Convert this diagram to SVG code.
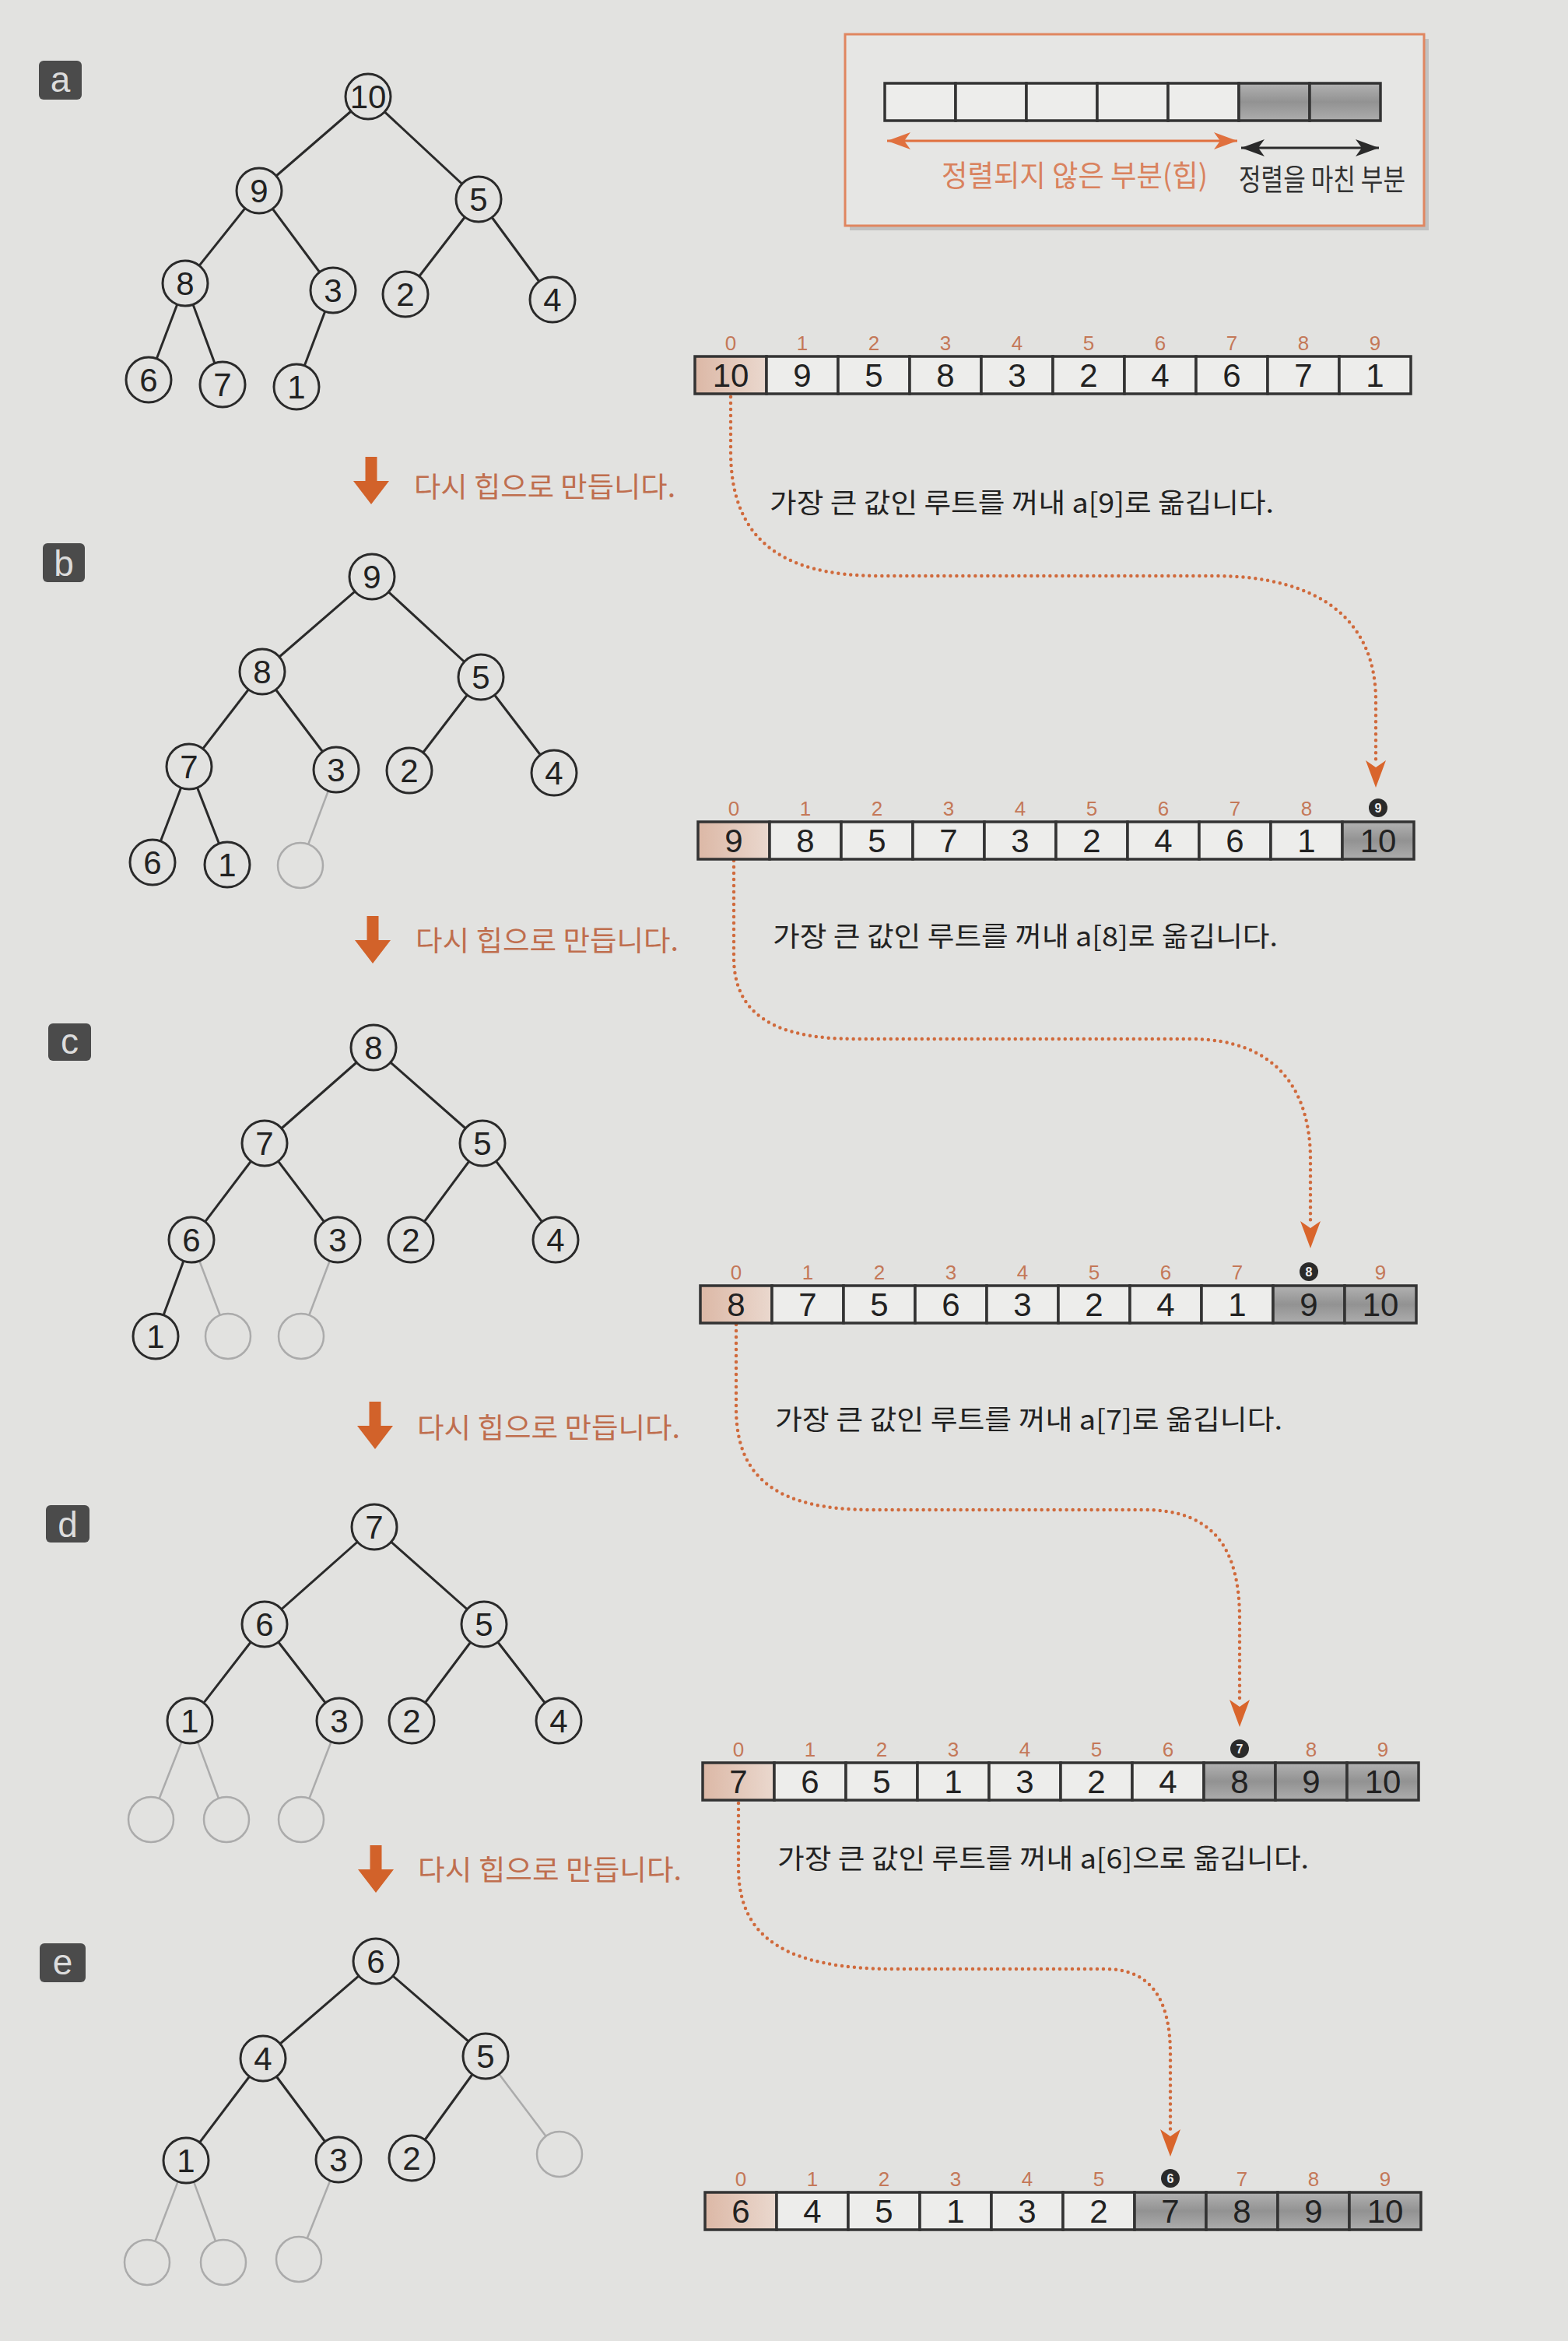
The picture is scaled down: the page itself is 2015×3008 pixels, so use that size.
<svg xmlns="http://www.w3.org/2000/svg" width="2015" height="3008" viewBox="0 0 2015 3008">
<defs>
<style>
.bg{fill:#e2e2e0}
.n circle{fill:#e2e2e0;stroke:#2a2a2a;stroke-width:3}
.n text{font-family:"Liberation Sans",Arial,sans-serif;font-size:42px;fill:#222;text-anchor:middle}
.g circle{fill:#e2e2e0;stroke:#ababab;stroke-width:2.5}
.e{stroke:#2a2a2a;stroke-width:3}
.ge{stroke:#ababab;stroke-width:2.5}
.lab rect{fill:#4b4b4b}
.lab text{font-family:"Liberation Sans",Arial,sans-serif;font-size:46px;fill:#dcdcdc;text-anchor:middle}
.cell{fill:#ededeb;stroke:#333;stroke-width:3.5}
.pk{fill:url(#pink);stroke:#333;stroke-width:3.5}
.gr{fill:url(#gray);stroke:#333;stroke-width:3.5}
.val{font-family:"Liberation Sans",Arial,sans-serif;font-size:42px;fill:#222;text-anchor:middle}
.idx{font-family:"Liberation Sans",Arial,sans-serif;font-size:26px;fill:#c47858;text-anchor:middle}
.bidx{font-family:"Liberation Sans",Arial,sans-serif;font-size:16px;font-weight:bold;fill:#eee;text-anchor:middle}
.kr{font-family:"Noto Sans CJK KR","Noto Sans CJK SC",sans-serif;font-size:35px;fill:#222}
.kro{font-family:"Noto Sans CJK KR","Noto Sans CJK SC",sans-serif;font-size:36px;fill:#bf6e4e}
.down{fill:#d2622a}
.dot{fill:none;stroke:#d06a3c;stroke-width:4.5;stroke-linecap:round;stroke-dasharray:0 8}
</style>
<linearGradient id="pink" x1="0" y1="0" x2="1" y2="0">
<stop offset="0" stop-color="#dcb8a6"/><stop offset="1" stop-color="#ead8ce"/>
</linearGradient>
<linearGradient id="gray" x1="0" y1="0" x2="0" y2="1">
<stop offset="0" stop-color="#b2b2b2"/><stop offset="0.5" stop-color="#929292"/><stop offset="1" stop-color="#adadad"/>
</linearGradient>
<marker id="dh" markerUnits="userSpaceOnUse" markerWidth="40" markerHeight="30" viewBox="0 -15 40 30" refX="2" refY="0" orient="auto">
<path d="M0,-13 L35,0 L0,13 L9,0 z" fill="#d9652c"/>
</marker>
<marker id="oh" markerUnits="userSpaceOnUse" markerWidth="34" markerHeight="26" viewBox="0 -13 34 26" refX="30" refY="0" orient="auto-start-reverse">
<path d="M0,-11 L30,0 L0,11 L8,0 z" fill="#e0703e"/>
</marker>
<marker id="kh" markerUnits="userSpaceOnUse" markerWidth="34" markerHeight="26" viewBox="0 -13 34 26" refX="30" refY="0" orient="auto-start-reverse">
<path d="M0,-11 L30,0 L0,11 L8,0 z" fill="#2a2a2a"/>
</marker>
</defs>
<rect class="bg" x="0" y="0" width="2015" height="3008"/>

<!-- legend -->
<g id="legend">
<rect x="1092" y="50" width="744" height="246" fill="#9a9a98" opacity="0.45"/>
<rect x="1086" y="44" width="744" height="246" fill="#e6e6e4" stroke="#e08660" stroke-width="3"/>
<g transform="translate(1137,107)">
<rect class="cell" x="0" y="0" width="91" height="48"/>
<rect class="cell" x="91" y="0" width="91" height="48"/>
<rect class="cell" x="182" y="0" width="91" height="48"/>
<rect class="cell" x="273" y="0" width="91" height="48"/>
<rect class="cell" x="364" y="0" width="91" height="48"/>
<rect class="gr" x="455" y="0" width="91" height="48"/>
<rect class="gr" x="546" y="0" width="91" height="48"/>
</g>
<line x1="1140" y1="181" x2="1590" y2="181" stroke="#e0703e" stroke-width="3" marker-start="url(#oh)" marker-end="url(#oh)"/>
<line x1="1595" y1="190" x2="1772" y2="190" stroke="#2a2a2a" stroke-width="3" marker-start="url(#kh)" marker-end="url(#kh)"/>
<text x="1210" y="239" font-family="'Noto Sans CJK KR',sans-serif" font-size="38" fill="#d9825e" textLength="342" lengthAdjust="spacingAndGlyphs">정렬되지 않은 부분(힙)</text>
<text x="1592" y="244" font-family="'Noto Sans CJK KR',sans-serif" font-size="38" fill="#333" textLength="214" lengthAdjust="spacingAndGlyphs">정렬을 마친 부분</text>
</g>

<!-- section labels -->
<g id="lab-a" class="lab"><rect x="50" y="78" width="55" height="50" rx="6"/><text x="77.5" y="118">a</text></g>
<g id="lab-b" class="lab"><rect x="55" y="698" width="54" height="50" rx="6"/><text x="82" y="740">b</text></g>
<g id="lab-c" class="lab"><rect x="62" y="1315" width="55" height="48" rx="6"/><text x="89.5" y="1354">c</text></g>
<g id="lab-d" class="lab"><rect x="59" y="1934" width="56" height="48" rx="6"/><text x="87" y="1975">d</text></g>
<g id="lab-e" class="lab"><rect x="51" y="2497" width="59" height="50" rx="6"/><text x="80.5" y="2537">e</text></g>

<!-- connectors -->
<g id="connectors">
<!-- tree a -->
<line class="e" x1="473" y1="124" x2="333" y2="245"/>
<line class="e" x1="473" y1="124" x2="615" y2="256"/>
<line class="e" x1="333" y1="245" x2="238" y2="364"/>
<line class="e" x1="333" y1="245" x2="428" y2="373"/>
<line class="e" x1="615" y1="256" x2="521" y2="378"/>
<line class="e" x1="615" y1="256" x2="710" y2="385"/>
<line class="e" x1="238" y1="364" x2="191" y2="488"/>
<line class="e" x1="238" y1="364" x2="286" y2="494"/>
<line class="e" x1="428" y1="373" x2="381" y2="497"/>
<!-- tree b -->
<line class="e" x1="478" y1="741" x2="337" y2="863"/>
<line class="e" x1="478" y1="741" x2="618" y2="870"/>
<line class="e" x1="337" y1="863" x2="243" y2="985"/>
<line class="e" x1="337" y1="863" x2="432" y2="989"/>
<line class="e" x1="618" y1="870" x2="526" y2="990"/>
<line class="e" x1="618" y1="870" x2="712" y2="993"/>
<line class="e" x1="243" y1="985" x2="196" y2="1108"/>
<line class="e" x1="243" y1="985" x2="292" y2="1111"/>
<line class="ge" x1="432" y1="989" x2="386" y2="1112"/>
<!-- tree c -->
<line class="e" x1="480" y1="1346" x2="340" y2="1469"/>
<line class="e" x1="480" y1="1346" x2="620" y2="1469"/>
<line class="e" x1="340" y1="1469" x2="246" y2="1593"/>
<line class="e" x1="340" y1="1469" x2="434" y2="1593"/>
<line class="e" x1="620" y1="1469" x2="528" y2="1593"/>
<line class="e" x1="620" y1="1469" x2="714" y2="1593"/>
<line class="e" x1="246" y1="1593" x2="200" y2="1717"/>
<line class="ge" x1="246" y1="1593" x2="293" y2="1717"/>
<line class="ge" x1="434" y1="1593" x2="387" y2="1717"/>
<!-- tree d -->
<line class="e" x1="481" y1="1962" x2="340" y2="2087"/>
<line class="e" x1="481" y1="1962" x2="622" y2="2087"/>
<line class="e" x1="340" y1="2087" x2="244" y2="2211"/>
<line class="e" x1="340" y1="2087" x2="436" y2="2211"/>
<line class="e" x1="622" y1="2087" x2="529" y2="2211"/>
<line class="e" x1="622" y1="2087" x2="718" y2="2211"/>
<line class="ge" x1="244" y1="2211" x2="194" y2="2338"/>
<line class="ge" x1="244" y1="2211" x2="291" y2="2338"/>
<line class="ge" x1="436" y1="2211" x2="387" y2="2338"/>
<!-- tree e -->
<line class="e" x1="483" y1="2520" x2="338" y2="2645"/>
<line class="e" x1="483" y1="2520" x2="624" y2="2642"/>
<line class="e" x1="338" y1="2645" x2="239" y2="2776"/>
<line class="e" x1="338" y1="2645" x2="435" y2="2775"/>
<line class="e" x1="624" y1="2642" x2="529" y2="2773"/>
<line class="ge" x1="624" y1="2642" x2="719" y2="2768"/>
<line class="ge" x1="239" y1="2776" x2="189" y2="2907"/>
<line class="ge" x1="239" y1="2776" x2="287" y2="2907"/>
<line class="ge" x1="435" y1="2775" x2="384" y2="2903"/>
<!-- dotted moves -->
<path class="dot" d="M939,510 L939,580 C939,690 1000,740 1130,740 L1560,740 C1700,740 1768,800 1768,900 L1768,979" marker-end="url(#dh)"/>
<path class="dot" d="M943,1106 L943,1230 C943,1300 990,1335 1100,1335 L1530,1335 C1640,1335 1684,1400 1684,1490 L1684,1571" marker-end="url(#dh)"/>
<path class="dot" d="M946,1702 L946,1810 C946,1900 1000,1940 1120,1940 L1470,1940 C1560,1940 1593,1990 1593,2080 L1593,2186" marker-end="url(#dh)"/>
<path class="dot" d="M949,2317 L949,2400 C949,2490 1010,2530 1150,2530 L1420,2530 C1480,2530 1504,2570 1504,2640 L1504,2738" marker-end="url(#dh)"/>
</g>

<!-- tree a nodes -->
<g id="a-10" class="n"><circle cx="473" cy="124" r="29"/><text x="473" y="139">10</text></g>
<g id="a-9" class="n"><circle cx="333" cy="245" r="29"/><text x="333" y="260">9</text></g>
<g id="a-5" class="n"><circle cx="615" cy="256" r="29"/><text x="615" y="271">5</text></g>
<g id="a-8" class="n"><circle cx="238" cy="364" r="29"/><text x="238" y="379">8</text></g>
<g id="a-3" class="n"><circle cx="428" cy="373" r="29"/><text x="428" y="388">3</text></g>
<g id="a-2" class="n"><circle cx="521" cy="378" r="29"/><text x="521" y="393">2</text></g>
<g id="a-4" class="n"><circle cx="710" cy="385" r="29"/><text x="710" y="400">4</text></g>
<g id="a-6" class="n"><circle cx="191" cy="488" r="29"/><text x="191" y="503">6</text></g>
<g id="a-7" class="n"><circle cx="286" cy="494" r="29"/><text x="286" y="509">7</text></g>
<g id="a-1" class="n"><circle cx="381" cy="497" r="29"/><text x="381" y="512">1</text></g>

<!-- tree b nodes -->
<g id="b-9" class="n"><circle cx="478" cy="741" r="29"/><text x="478" y="756">9</text></g>
<g id="b-8" class="n"><circle cx="337" cy="863" r="29"/><text x="337" y="878">8</text></g>
<g id="b-5" class="n"><circle cx="618" cy="870" r="29"/><text x="618" y="885">5</text></g>
<g id="b-7" class="n"><circle cx="243" cy="985" r="29"/><text x="243" y="1000">7</text></g>
<g id="b-3" class="n"><circle cx="432" cy="989" r="29"/><text x="432" y="1004">3</text></g>
<g id="b-2" class="n"><circle cx="526" cy="990" r="29"/><text x="526" y="1005">2</text></g>
<g id="b-4" class="n"><circle cx="712" cy="993" r="29"/><text x="712" y="1008">4</text></g>
<g id="b-6" class="n"><circle cx="196" cy="1108" r="29"/><text x="196" y="1123">6</text></g>
<g id="b-1" class="n"><circle cx="292" cy="1111" r="29"/><text x="292" y="1126">1</text></g>
<g id="b-x1" class="g"><circle cx="386" cy="1112" r="29"/></g>

<!-- tree c nodes -->
<g id="c-8" class="n"><circle cx="480" cy="1346" r="29"/><text x="480" y="1361">8</text></g>
<g id="c-7" class="n"><circle cx="340" cy="1469" r="29"/><text x="340" y="1484">7</text></g>
<g id="c-5" class="n"><circle cx="620" cy="1469" r="29"/><text x="620" y="1484">5</text></g>
<g id="c-6" class="n"><circle cx="246" cy="1593" r="29"/><text x="246" y="1608">6</text></g>
<g id="c-3" class="n"><circle cx="434" cy="1593" r="29"/><text x="434" y="1608">3</text></g>
<g id="c-2" class="n"><circle cx="528" cy="1593" r="29"/><text x="528" y="1608">2</text></g>
<g id="c-4" class="n"><circle cx="714" cy="1593" r="29"/><text x="714" y="1608">4</text></g>
<g id="c-1" class="n"><circle cx="200" cy="1717" r="29"/><text x="200" y="1732">1</text></g>
<g id="c-x1" class="g"><circle cx="293" cy="1717" r="29"/></g>
<g id="c-x2" class="g"><circle cx="387" cy="1717" r="29"/></g>

<!-- tree d nodes -->
<g id="d-7" class="n"><circle cx="481" cy="1962" r="29"/><text x="481" y="1977">7</text></g>
<g id="d-6" class="n"><circle cx="340" cy="2087" r="29"/><text x="340" y="2102">6</text></g>
<g id="d-5" class="n"><circle cx="622" cy="2087" r="29"/><text x="622" y="2102">5</text></g>
<g id="d-1" class="n"><circle cx="244" cy="2211" r="29"/><text x="244" y="2226">1</text></g>
<g id="d-3" class="n"><circle cx="436" cy="2211" r="29"/><text x="436" y="2226">3</text></g>
<g id="d-2" class="n"><circle cx="529" cy="2211" r="29"/><text x="529" y="2226">2</text></g>
<g id="d-4" class="n"><circle cx="718" cy="2211" r="29"/><text x="718" y="2226">4</text></g>
<g id="d-x1" class="g"><circle cx="194" cy="2338" r="29"/></g>
<g id="d-x2" class="g"><circle cx="291" cy="2338" r="29"/></g>
<g id="d-x3" class="g"><circle cx="387" cy="2338" r="29"/></g>

<!-- tree e nodes -->
<g id="e-6" class="n"><circle cx="483" cy="2520" r="29"/><text x="483" y="2535">6</text></g>
<g id="e-4" class="n"><circle cx="338" cy="2645" r="29"/><text x="338" y="2660">4</text></g>
<g id="e-5" class="n"><circle cx="624" cy="2642" r="29"/><text x="624" y="2657">5</text></g>
<g id="e-1" class="n"><circle cx="239" cy="2776" r="29"/><text x="239" y="2791">1</text></g>
<g id="e-3" class="n"><circle cx="435" cy="2775" r="29"/><text x="435" y="2790">3</text></g>
<g id="e-2" class="n"><circle cx="529" cy="2773" r="29"/><text x="529" y="2788">2</text></g>
<g id="e-x0" class="g"><circle cx="719" cy="2768" r="29"/></g>
<g id="e-x1" class="g"><circle cx="189" cy="2907" r="29"/></g>
<g id="e-x2" class="g"><circle cx="287" cy="2907" r="29"/></g>
<g id="e-x3" class="g"><circle cx="384" cy="2903" r="29"/></g>

<!-- down arrows with captions -->
<g id="step-ab">
<polygon class="down" points="469.5,587 484.5,587 484.5,618 500,618 477,648 454,618 469.5,618"/>
<text class="kro" x="532" y="639" textLength="336" lengthAdjust="spacingAndGlyphs">다시 힙으로 만듭니다.</text>
</g>
<g id="step-bc">
<polygon class="down" points="471.5,1177 486.5,1177 486.5,1208 502,1208 479,1238 456,1208 471.5,1208"/>
<text class="kro" x="534" y="1222" textLength="338" lengthAdjust="spacingAndGlyphs">다시 힙으로 만듭니다.</text>
</g>
<g id="step-cd">
<polygon class="down" points="474.5,1801 489.5,1801 489.5,1832 505,1832 482,1862 459,1832 474.5,1832"/>
<text class="kro" x="536" y="1848" textLength="338" lengthAdjust="spacingAndGlyphs">다시 힙으로 만듭니다.</text>
</g>
<g id="step-de">
<polygon class="down" points="475.5,2371 490.5,2371 490.5,2402 506,2402 483,2432 460,2402 475.5,2402"/>
<text class="kro" x="537" y="2416" textLength="339" lengthAdjust="spacingAndGlyphs">다시 힙으로 만듭니다.</text>
</g>

<!-- captions -->
<text id="cap-a" class="kr" x="989" y="659" textLength="648" lengthAdjust="spacingAndGlyphs">가장 큰 값인 루트를 꺼내 a[9]로 옮깁니다.</text>
<text id="cap-b" class="kr" x="993" y="1216" textLength="649" lengthAdjust="spacingAndGlyphs">가장 큰 값인 루트를 꺼내 a[8]로 옮깁니다.</text>
<text id="cap-c" class="kr" x="996" y="1837" textLength="652" lengthAdjust="spacingAndGlyphs">가장 큰 값인 루트를 꺼내 a[7]로 옮깁니다.</text>
<text id="cap-d" class="kr" x="999" y="2401" textLength="683" lengthAdjust="spacingAndGlyphs">가장 큰 값인 루트를 꺼내 a[6]으로 옮깁니다.</text>

<!-- array a -->
<g id="arr-a" transform="translate(893,458)">
<rect class="pk" x="0" y="0" width="92" height="48"/>
<rect class="cell" x="92" y="0" width="92" height="48"/>
<rect class="cell" x="184" y="0" width="92" height="48"/>
<rect class="cell" x="276" y="0" width="92" height="48"/>
<rect class="cell" x="368" y="0" width="92" height="48"/>
<rect class="cell" x="460" y="0" width="92" height="48"/>
<rect class="cell" x="552" y="0" width="92" height="48"/>
<rect class="cell" x="644" y="0" width="92" height="48"/>
<rect class="cell" x="736" y="0" width="92" height="48"/>
<rect class="cell" x="828" y="0" width="92" height="48"/>
<text class="val" x="46" y="39">10</text><text class="val" x="138" y="39">9</text><text class="val" x="230" y="39">5</text><text class="val" x="322" y="39">8</text><text class="val" x="414" y="39">3</text><text class="val" x="506" y="39">2</text><text class="val" x="598" y="39">4</text><text class="val" x="690" y="39">6</text><text class="val" x="782" y="39">7</text><text class="val" x="874" y="39">1</text>
<text class="idx" x="46" y="-8">0</text><text class="idx" x="138" y="-8">1</text><text class="idx" x="230" y="-8">2</text><text class="idx" x="322" y="-8">3</text><text class="idx" x="414" y="-8">4</text><text class="idx" x="506" y="-8">5</text><text class="idx" x="598" y="-8">6</text><text class="idx" x="690" y="-8">7</text><text class="idx" x="782" y="-8">8</text><text class="idx" x="874" y="-8">9</text>
</g>

<!-- array b -->
<g id="arr-b" transform="translate(897,1056)">
<rect class="pk" x="0" y="0" width="92" height="48"/>
<rect class="cell" x="92" y="0" width="92" height="48"/>
<rect class="cell" x="184" y="0" width="92" height="48"/>
<rect class="cell" x="276" y="0" width="92" height="48"/>
<rect class="cell" x="368" y="0" width="92" height="48"/>
<rect class="cell" x="460" y="0" width="92" height="48"/>
<rect class="cell" x="552" y="0" width="92" height="48"/>
<rect class="cell" x="644" y="0" width="92" height="48"/>
<rect class="cell" x="736" y="0" width="92" height="48"/>
<rect class="gr" x="828" y="0" width="92" height="48"/>
<text class="val" x="46" y="39">9</text><text class="val" x="138" y="39">8</text><text class="val" x="230" y="39">5</text><text class="val" x="322" y="39">7</text><text class="val" x="414" y="39">3</text><text class="val" x="506" y="39">2</text><text class="val" x="598" y="39">4</text><text class="val" x="690" y="39">6</text><text class="val" x="782" y="39">1</text><text class="val" x="874" y="39">10</text>
<text class="idx" x="46" y="-8">0</text><text class="idx" x="138" y="-8">1</text><text class="idx" x="230" y="-8">2</text><text class="idx" x="322" y="-8">3</text><text class="idx" x="414" y="-8">4</text><text class="idx" x="506" y="-8">5</text><text class="idx" x="598" y="-8">6</text><text class="idx" x="690" y="-8">7</text><text class="idx" x="782" y="-8">8</text>
<circle cx="874" cy="-18" r="12" fill="#2a2a2a"/><text class="bidx" x="874" y="-12.5">9</text>
</g>

<!-- array c -->
<g id="arr-c" transform="translate(900,1652)">
<rect class="pk" x="0" y="0" width="92" height="48"/>
<rect class="cell" x="92" y="0" width="92" height="48"/>
<rect class="cell" x="184" y="0" width="92" height="48"/>
<rect class="cell" x="276" y="0" width="92" height="48"/>
<rect class="cell" x="368" y="0" width="92" height="48"/>
<rect class="cell" x="460" y="0" width="92" height="48"/>
<rect class="cell" x="552" y="0" width="92" height="48"/>
<rect class="cell" x="644" y="0" width="92" height="48"/>
<rect class="gr" x="736" y="0" width="92" height="48"/>
<rect class="gr" x="828" y="0" width="92" height="48"/>
<text class="val" x="46" y="39">8</text><text class="val" x="138" y="39">7</text><text class="val" x="230" y="39">5</text><text class="val" x="322" y="39">6</text><text class="val" x="414" y="39">3</text><text class="val" x="506" y="39">2</text><text class="val" x="598" y="39">4</text><text class="val" x="690" y="39">1</text><text class="val" x="782" y="39">9</text><text class="val" x="874" y="39">10</text>
<text class="idx" x="46" y="-8">0</text><text class="idx" x="138" y="-8">1</text><text class="idx" x="230" y="-8">2</text><text class="idx" x="322" y="-8">3</text><text class="idx" x="414" y="-8">4</text><text class="idx" x="506" y="-8">5</text><text class="idx" x="598" y="-8">6</text><text class="idx" x="690" y="-8">7</text><text class="idx" x="874" y="-8">9</text>
<circle cx="782" cy="-18" r="12" fill="#2a2a2a"/><text class="bidx" x="782" y="-12.5">8</text>
</g>

<!-- array d -->
<g id="arr-d" transform="translate(903,2265)">
<rect class="pk" x="0" y="0" width="92" height="48"/>
<rect class="cell" x="92" y="0" width="92" height="48"/>
<rect class="cell" x="184" y="0" width="92" height="48"/>
<rect class="cell" x="276" y="0" width="92" height="48"/>
<rect class="cell" x="368" y="0" width="92" height="48"/>
<rect class="cell" x="460" y="0" width="92" height="48"/>
<rect class="cell" x="552" y="0" width="92" height="48"/>
<rect class="gr" x="644" y="0" width="92" height="48"/>
<rect class="gr" x="736" y="0" width="92" height="48"/>
<rect class="gr" x="828" y="0" width="92" height="48"/>
<text class="val" x="46" y="39">7</text><text class="val" x="138" y="39">6</text><text class="val" x="230" y="39">5</text><text class="val" x="322" y="39">1</text><text class="val" x="414" y="39">3</text><text class="val" x="506" y="39">2</text><text class="val" x="598" y="39">4</text><text class="val" x="690" y="39">8</text><text class="val" x="782" y="39">9</text><text class="val" x="874" y="39">10</text>
<text class="idx" x="46" y="-8">0</text><text class="idx" x="138" y="-8">1</text><text class="idx" x="230" y="-8">2</text><text class="idx" x="322" y="-8">3</text><text class="idx" x="414" y="-8">4</text><text class="idx" x="506" y="-8">5</text><text class="idx" x="598" y="-8">6</text><text class="idx" x="782" y="-8">8</text><text class="idx" x="874" y="-8">9</text>
<circle cx="690" cy="-18" r="12" fill="#2a2a2a"/><text class="bidx" x="690" y="-12.5">7</text>
</g>

<!-- array e -->
<g id="arr-e" transform="translate(906,2817)">
<rect class="pk" x="0" y="0" width="92" height="48"/>
<rect class="cell" x="92" y="0" width="92" height="48"/>
<rect class="cell" x="184" y="0" width="92" height="48"/>
<rect class="cell" x="276" y="0" width="92" height="48"/>
<rect class="cell" x="368" y="0" width="92" height="48"/>
<rect class="cell" x="460" y="0" width="92" height="48"/>
<rect class="gr" x="552" y="0" width="92" height="48"/>
<rect class="gr" x="644" y="0" width="92" height="48"/>
<rect class="gr" x="736" y="0" width="92" height="48"/>
<rect class="gr" x="828" y="0" width="92" height="48"/>
<text class="val" x="46" y="39">6</text><text class="val" x="138" y="39">4</text><text class="val" x="230" y="39">5</text><text class="val" x="322" y="39">1</text><text class="val" x="414" y="39">3</text><text class="val" x="506" y="39">2</text><text class="val" x="598" y="39">7</text><text class="val" x="690" y="39">8</text><text class="val" x="782" y="39">9</text><text class="val" x="874" y="39">10</text>
<text class="idx" x="46" y="-8">0</text><text class="idx" x="138" y="-8">1</text><text class="idx" x="230" y="-8">2</text><text class="idx" x="322" y="-8">3</text><text class="idx" x="414" y="-8">4</text><text class="idx" x="506" y="-8">5</text><text class="idx" x="690" y="-8">7</text><text class="idx" x="782" y="-8">8</text><text class="idx" x="874" y="-8">9</text>
<circle cx="598" cy="-18" r="12" fill="#2a2a2a"/><text class="bidx" x="598" y="-12.5">6</text>
</g>
</svg>
